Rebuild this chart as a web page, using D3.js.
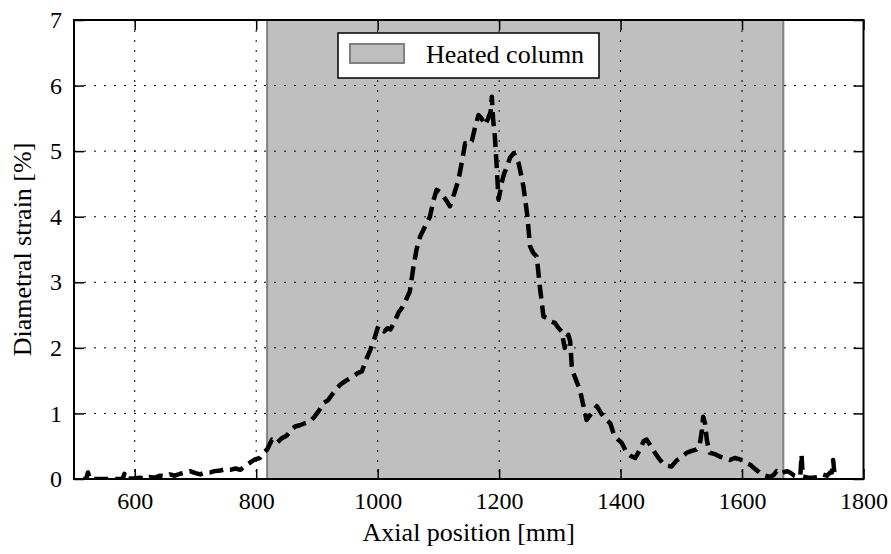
<!DOCTYPE html>
<html>
<head>
<meta charset="utf-8">
<script src="https://cdn.jsdelivr.net/npm/d3@7"></script>
<style>
  body { margin: 0; background: #fff; }
  text { font-family: "Liberation Serif", "DejaVu Serif", serif; fill: #000; }
</style>
</head>
<body>
<div id="chart"></div>
<script>
// measured strain profile
var axialPos = [515, 520, 523, 526, 540, 560, 580, 583, 586, 600, 609, 615, 625, 633, 642, 650, 658, 666, 675, 683,
  691, 700, 708, 716, 724, 732, 741, 749, 757, 766, 774, 782, 790, 798, 806, 812, 818, 826, 834, 842,
  850, 858, 864, 872, 880, 889, 896, 904, 911, 918, 926, 933, 940, 948, 955, 962, 968, 974, 980, 988,
  995, 1001, 1006, 1011, 1016, 1021, 1028, 1035, 1040, 1046, 1053, 1059, 1064, 1070, 1078, 1086, 1092, 1097, 1102, 1108,
  1113, 1119, 1126, 1133, 1139, 1144, 1150, 1155, 1160, 1166, 1171, 1177, 1182, 1186, 1188, 1190, 1193, 1196, 1199, 1202,
  1204, 1208, 1213, 1218, 1224, 1228, 1232, 1236, 1240, 1246, 1251, 1256, 1262, 1267, 1273, 1280, 1286, 1292, 1298, 1303,
  1308, 1311, 1314, 1317, 1320, 1327, 1333, 1338, 1344, 1352, 1361, 1368, 1375, 1383, 1390, 1396, 1402, 1410, 1417, 1424,
  1432, 1438, 1443, 1450, 1458, 1465, 1472, 1478, 1484, 1492, 1500, 1509, 1517, 1525, 1530, 1534, 1536, 1539, 1542, 1545,
  1547, 1555, 1564, 1572, 1580, 1588, 1597, 1605, 1613, 1622, 1630, 1638, 1646, 1652, 1657, 1663, 1668, 1674, 1679, 1686,
  1692, 1696, 1698, 1700, 1708, 1717, 1725, 1733, 1740, 1745, 1748, 1750, 1752, 1756, 1760];
var strain = [0, 0, 0.1, 0, 0, 0, 0, 0.08, 0, 0.01, 0.02, 0, 0.03, 0.02, 0.05, 0.04, 0.07, 0.05, 0.08, 0.1,
  0.12, 0.09, 0.07, 0.1, 0.1, 0.12, 0.13, 0.15, 0.14, 0.16, 0.14, 0.2, 0.25, 0.3, 0.32, 0.4, 0.45, 0.6, 0.55, 0.62,
  0.66, 0.75, 0.8, 0.82, 0.85, 0.88, 0.95, 1.05, 1.16, 1.2, 1.3, 1.39, 1.45, 1.5, 1.54, 1.58, 1.62, 1.64, 1.8, 1.97,
  2.15, 2.33, 2.3, 2.25, 2.3, 2.28, 2.4, 2.55, 2.61, 2.72, 2.86, 3.24, 3.5, 3.7, 3.85, 4.0, 4.25, 4.41, 4.38, 4.31,
  4.25, 4.16, 4.35, 4.56, 4.85, 5.12, 5.1, 5.15, 5.35, 5.55, 5.5, 5.4, 5.5, 5.6, 5.83, 5.5, 5.22, 4.77, 4.26, 4.4,
  4.51, 4.65, 4.77, 4.9, 4.97, 4.9, 4.82, 4.65, 4.46, 4.05, 3.55, 3.45, 3.39, 2.94, 2.48, 2.45, 2.4, 2.38, 2.3, 2.25,
  2.0, 2.15, 2.2, 2.1, 1.67, 1.5, 1.36, 1.15, 0.9, 1.0, 1.11, 1.0, 0.92, 0.85, 0.65, 0.6, 0.55, 0.4, 0.35, 0.32,
  0.45, 0.58, 0.6, 0.5, 0.38, 0.29, 0.22, 0.2, 0.19, 0.28, 0.33, 0.4, 0.43, 0.45, 0.5, 0.75, 0.95, 0.85, 0.6, 0.45,
  0.4, 0.38, 0.34, 0.32, 0.29, 0.32, 0.3, 0.25, 0.22, 0.15, 0.09, 0.05, 0.03, 0.06, 0.12, 0.08, 0.1, 0.12, 0.1, 0.05,
  0.03, 0.05, 0.37, 0.04, 0.02, 0.02, 0.03, 0.07, 0.05, 0.1, 0.1, 0.29, 0.1, 0.1, 0.05];

var heatedColumn = [818, 1668];
var xTicks = [600, 800, 1000, 1200, 1400, 1600, 1800];
var yTicks = [0, 1, 2, 3, 4, 5, 6, 7];

var svgWidth = 891;
var svgHeight = 554;
var margin = { top: 20, right: 27.5, bottom: 75, left: 74 };
var width = svgWidth - margin.left - margin.right;
var height = svgHeight - margin.top - margin.bottom;

var svg = d3.select("#chart")
  .append("svg")
  .attr("width", svgWidth)
  .attr("height", svgHeight);

var chartGroup = svg.append("g")
  .attr("transform", `translate(${margin.left}, ${margin.top})`);

var xScale = d3.scaleLinear().domain([500, 1800]).range([0, width]);
var yScale = d3.scaleLinear().domain([0, 7]).range([height, 0]);

chartGroup.append("clipPath").attr("id", "clip")
  .append("rect").attr("width", width).attr("height", height);

// heated column band
chartGroup.append("rect")
  .attr("x", xScale(heatedColumn[0]))
  .attr("y", 0)
  .attr("width", xScale(heatedColumn[1]) - xScale(heatedColumn[0]))
  .attr("height", height)
  .attr("fill", "#bfbfbf");
heatedColumn.forEach(function(v) {
  chartGroup.append("line")
    .attr("x1", xScale(v)).attr("x2", xScale(v))
    .attr("y1", 0).attr("y2", height)
    .attr("stroke", "#808080")
    .attr("stroke-width", 2);
});

// grid
chartGroup.append("g")
  .selectAll("line")
  .data(xTicks.filter(d => d < 1800))
  .enter()
  .append("line")
  .attr("x1", d => xScale(d)).attr("x2", d => xScale(d))
  .attr("y1", 0).attr("y2", height)
  .attr("stroke", "#000")
  .attr("stroke-width", 1)
  .attr("stroke-dasharray", "2,8");

chartGroup.append("g")
  .selectAll("line")
  .data(yTicks.filter(d => d > 0 && d < 7))
  .enter()
  .append("line")
  .attr("x1", 0).attr("x2", width)
  .attr("y1", d => yScale(d)).attr("y2", d => yScale(d))
  .attr("stroke", "#000")
  .attr("stroke-width", 1)
  .attr("stroke-dasharray", "2,8");

// strain line
var line = d3.line()
  .x((d, i) => xScale(axialPos[i]))
  .y(d => yScale(d));

chartGroup.append("path")
  .datum(strain)
  .attr("clip-path", "url(#clip)")
  .attr("d", line)
  .attr("fill", "none")
  .attr("stroke", "#000")
  .attr("stroke-width", 4.5)
  .attr("stroke-linejoin", "round")
  .attr("stroke-dasharray", "14,7");

// axes, ticks inward on all sides
var fmt = d3.format("d");
var bottomAxis = d3.axisBottom(xScale).tickValues(xTicks).tickFormat(fmt).tickSizeInner(-10).tickSizeOuter(0).tickPadding(13);
var topAxis = d3.axisTop(xScale).tickValues(xTicks).tickSizeInner(-10).tickSizeOuter(0).tickFormat("");
var leftAxis = d3.axisLeft(yScale).tickValues(yTicks).tickFormat(fmt).tickSizeInner(-10).tickSizeOuter(0).tickPadding(12);
var rightAxis = d3.axisRight(yScale).tickValues(yTicks).tickSizeInner(-10).tickSizeOuter(0).tickFormat("");

function styleAxis(g) {
  g.select(".domain").remove();
  g.selectAll(".tick line").attr("stroke", "#000").attr("stroke-width", 1.5);
  g.selectAll(".tick text").style("font-size", "24px").style("font-family", "Liberation Serif");
}

chartGroup.append("g").attr("transform", `translate(0, ${height})`).call(bottomAxis).call(styleAxis);
chartGroup.append("g").call(topAxis).call(styleAxis);
chartGroup.append("g").call(leftAxis).call(styleAxis);
chartGroup.append("g").attr("transform", `translate(${width}, 0)`).call(rightAxis).call(styleAxis);

// frame
chartGroup.append("rect")
  .attr("width", width)
  .attr("height", height)
  .attr("fill", "none")
  .attr("stroke", "#000")
  .attr("stroke-width", 2);

// legend
var legend = svg.append("g");
legend.append("rect")
  .attr("x", 338).attr("y", 33).attr("width", 261).attr("height", 45)
  .attr("fill", "#fff").attr("stroke", "#000").attr("stroke-width", 1.5);
legend.append("rect")
  .attr("x", 350).attr("y", 44).attr("width", 54).attr("height", 19)
  .attr("fill", "#bfbfbf").attr("stroke", "#808080").attr("stroke-width", 2);
legend.append("text")
  .attr("x", 426).attr("y", 63)
  .style("font-size", "26px")
  .text("Heated column");

// axes labels
svg.append("text")
  .attr("transform", `translate(${margin.left + width / 2}, 541)`)
  .attr("text-anchor", "middle")
  .style("font-size", "26px")
  .text("Axial position [mm]");

svg.append("text")
  .attr("transform", `translate(31, ${margin.top + height / 2}) rotate(-90)`)
  .attr("text-anchor", "middle")
  .style("font-size", "26px")
  .text("Diametral strain [%]");
</script>
</body>
</html>
